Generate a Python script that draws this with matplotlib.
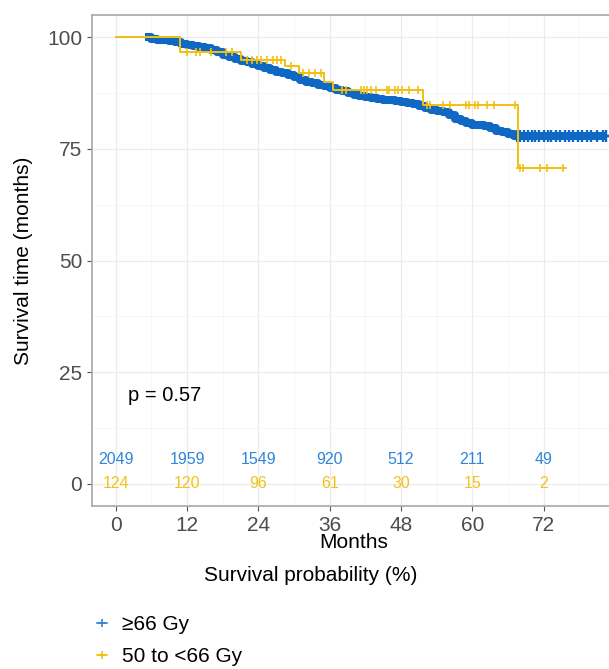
import matplotlib.pyplot as plt
from matplotlib.lines import Line2D
import numpy as np

plt.rcParams['font.family'] = ['Liberation Sans', 'DejaVu Sans']

# -------------------------
# DATA
# -------------------------
# >=66 Gy : step times (months) and survival (%)
blue_time = [0, 5, 6, 7, 8, 9, 10, 11, 12, 13, 14, 15, 16, 17, 18, 19, 20,
             21, 22, 23, 24, 25, 26, 27, 28, 29, 30, 31, 32, 33, 34, 35, 36,
             37, 38, 39, 40, 41, 42, 43, 44, 45, 46, 47, 48, 49, 50, 51, 52,
             53, 54, 55, 56, 57, 58, 59, 60, 61, 62, 63, 64, 65, 66, 67, 82.5]
blue_surv = [100, 100, 99.7, 99.5, 99.3, 99.1, 98.9, 98.6, 98.3, 98.0, 97.8,
             97.5, 97.1, 96.6, 96.1, 95.6, 95.2, 94.8, 94.4, 94.0, 93.6, 93.1,
             92.7, 92.3, 91.9, 91.5, 91.0, 90.5, 90.1, 89.7, 89.3, 89.0, 88.6,
             88.3, 87.9, 87.5, 87.1, 86.8, 86.6, 86.4, 86.2, 86.0, 85.9, 85.7,
             85.5, 85.3, 85.0, 84.7, 84.2, 83.8, 83.5, 83.2, 82.5, 81.8, 81.2,
             80.8, 80.4, 80.3, 80.2, 79.6, 79.0, 78.7, 78.3, 77.9, 77.9]
blue_censor = [67.5, 68, 68.7, 69.3, 70, 70.6, 71.2, 72, 72.7, 73.3, 74, 74.8,
               75.5, 76.3, 77, 77.8, 78.5, 79.3, 80, 81, 82, 82.5]
blue_dense_from = 5  # censor marks pile up from here on

# 50 to <66 Gy
yel_time = [0, 10.8, 21, 28.5, 30.8, 35, 36.5, 51.7, 67.7, 75.2]
yel_surv = [100, 96.8, 94.9, 93.6, 91.9, 90.0, 88.2, 84.8, 70.7, 70.7]
yel_censor = [12.0, 13.5, 14.2, 16, 18.5, 19.5,
              22, 23, 23.8, 24.5, 25.5, 26.5, 27.2, 27.8, 29.5,
              31.5, 32.5, 33.5, 34.5,
              38.1, 38.8, 41.3, 41.8, 42.3, 43, 43.8, 45.7, 46, 46.9, 47.4,
              48.1, 49.4, 50.8,
              52.3, 52.8, 55, 56.2, 59, 59.5, 60.4, 60.9, 62.4, 63.7, 67.1,
              68, 68.5, 71.3, 72.5, 75.2]

risk_times = [0, 12, 24, 36, 48, 60, 72]
risk_blue = [2049, 1959, 1549, 920, 512, 211, 49]
risk_yel = [124, 120, 96, 61, 30, 15, 2]

labels = ["\u226566 Gy", "50 to <66 Gy"]
p_text = "p = 0.57"

BLUE = "#0E68C4"
YEL = "#F2C012"
BLUE_TXT = "#2F86DA"
YEL_TXT = "#F2C21B"


def surv_at(times, survs, t):
    idx = np.searchsorted(times, t, side='right') - 1
    return np.array(survs)[idx]


# -------------------------
# PLOT
# -------------------------
fig = plt.figure(figsize=(6.09, 6.69), dpi=100)
ax = fig.add_axes([0.151, 0.2436, 0.859, 0.734])

# blue curve: thin line, then the dense band of censor marks
ax.step(blue_time, blue_surv, where='post', color=BLUE, lw=1.3, zorder=2)
bt = np.array(blue_time)
mask = bt >= blue_dense_from
ax.step(bt[mask], np.array(blue_surv)[mask], where='post', color=BLUE,
        lw=5.8, solid_capstyle='butt', solid_joinstyle='round', zorder=2)
ax.plot(blue_censor, surv_at(blue_time, blue_surv, blue_censor), ls='none',
        marker='+', ms=8.5, mew=1.7, color=BLUE, zorder=2)

# yellow curve
ax.step(yel_time, yel_surv, where='post', color=YEL, lw=1.4, zorder=3)
ax.plot(yel_censor, surv_at(yel_time, yel_surv, yel_censor), ls='none',
        marker='+', ms=6, mew=1.2, color=YEL, zorder=3)

# numbers at risk inside the panel
for t, nb, ny in zip(risk_times, risk_blue, risk_yel):
    ax.text(t, 5.5, str(nb), color=BLUE_TXT, fontsize=11.5, ha='center', va='center')
    ax.text(t, 0, str(ny), color=YEL_TXT, fontsize=11.5, ha='center', va='center')

ax.text(8.2, 19.7, p_text, fontsize=14.5, ha='center', va='center', color='black')

ax.set_xlim(-4, 84)
ax.set_ylim(-5, 105)
ax.set_xticks(risk_times)
ax.set_yticks([0, 25, 50, 75, 100])
ax.set_xticks(np.arange(6, 84, 12), minor=True)
ax.set_yticks([12.5, 37.5, 62.5, 87.5], minor=True)
ax.grid(which='major', color='#EBEBEB', lw=0.9)
ax.grid(which='minor', color='#F3F3F3', lw=0.5)
ax.set_axisbelow(True)
ax.tick_params(which='major', labelsize=15, labelcolor='#4D4D4D', color='#555555',
               length=3.5, width=0.8)
ax.tick_params(which='minor', length=0)
for s in ax.spines.values():
    s.set_color('#A8A8A8')
    s.set_linewidth(1.2)

ax.set_ylabel("Survival time (months)", fontsize=15, labelpad=10)
ax.set_xlabel("Months", fontsize=15, labelpad=-1)
fig.text(0.51, 0.14, "Survival probability (%)", fontsize=15, ha='center', va='center')

handles = [Line2D([], [], color=BLUE_TXT, marker='+', ms=6, mew=1.2, lw=1.2),
           Line2D([], [], color=YEL, marker='+', ms=6, mew=1.2, lw=1.2)]
fig.legend(handles, labels, loc='upper left', bbox_to_anchor=(0.145, 0.093),
           frameon=False, fontsize=15, handlelength=0.5, handletextpad=0.7,
           labelspacing=0.62, borderaxespad=0)

fig.savefig("out.png", dpi=100)
